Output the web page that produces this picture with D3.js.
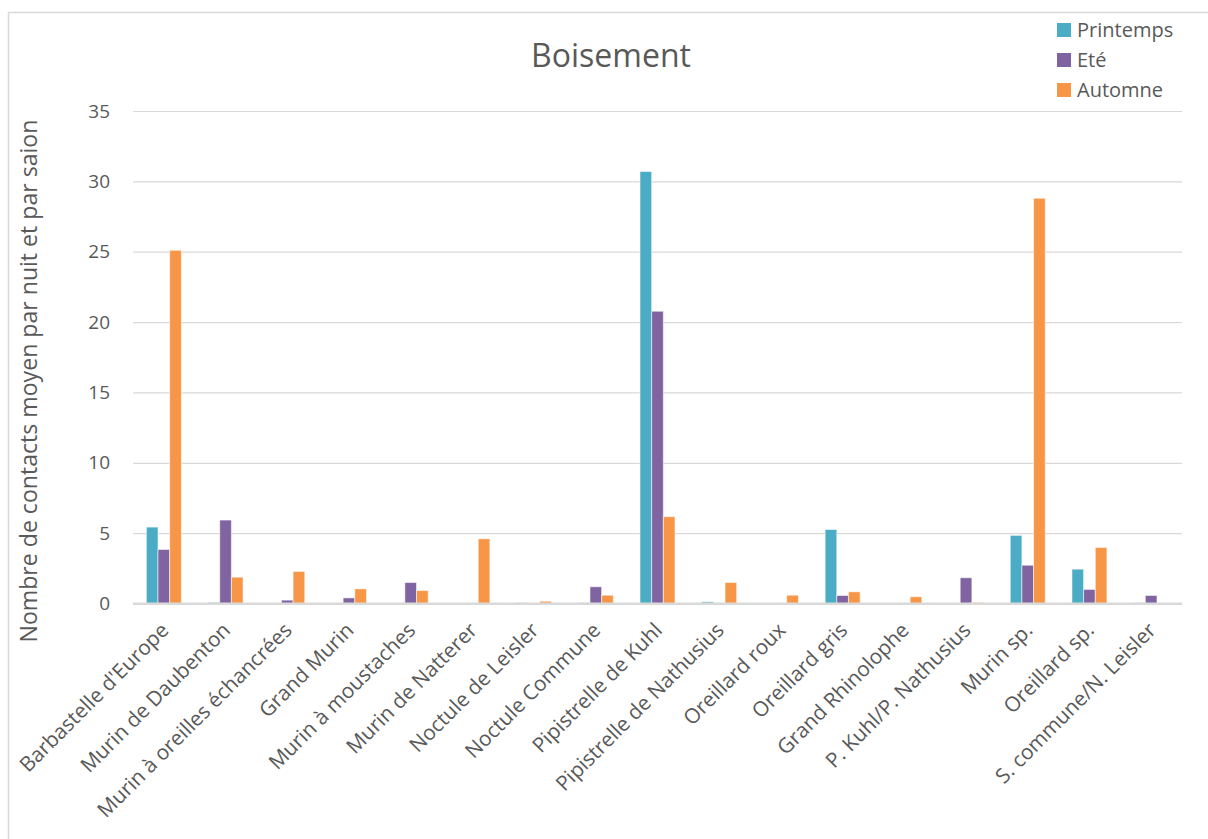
<!DOCTYPE html>
<html>
<head>
<meta charset="utf-8">
<script src="https://cdn.jsdelivr.net/npm/d3@7"></script>
<style>
  html, body { margin: 0; padding: 0; background: #fff; }
  svg { display: block; }
  svg text { font-family: "Open Sans", "Noto Sans", sans-serif; }
</style>
</head>
<body>
<svg id="chart" width="1208" height="839"></svg>
<script>
// Espèces recensées en boisement
const categories = [
  "Barbastelle d'Europe", "Murin de Daubenton", "Murin à oreilles échancrées",
  "Grand Murin", "Murin à moustaches", "Murin de Natterer", "Noctule de Leisler",
  "Noctule Commune", "Pipistrelle de Kuhl", "Pipistrelle de Nathusius",
  "Oreillard roux", "Oreillard gris", "Grand Rhinolophe", "P. Kuhl/P. Nathusius",
  "Murin sp.", "Oreillard sp.", "S. commune/N. Leisler"
];
const seriesNames = ["Printemps", "Eté", "Automne"];
const printemps = [5.43, 0.08, 0, 0, 0, 0, 0.05, 0.05, 30.7, 0.12, 0, 5.26, 0, 0, 4.84, 2.44, 0.05];
const ete       = [3.84, 5.93, 0.24, 0.4, 1.49, 0, 0, 1.19, 20.77, 0, 0, 0.57, 0, 1.83, 2.72, 1.0, 0.57];
const automne   = [25.1, 1.87, 2.28, 1.04, 0.92, 4.6, 0.16, 0.59, 6.17, 1.49, 0.59, 0.83, 0.48, 0.08, 28.8, 3.98, 0];
const yTicks = [0, 5, 10, 15, 20, 25, 30, 35];
const colors = ["#4BACC6", "#8064A2", "#F79646"];

const seriesValues = [printemps, ete, automne];
const textColor = "#595959";
const gridColor = "#D9D9D9";
const fontStack = '"Open Sans", "Noto Sans", sans-serif';

const svg = d3.select("#chart");

// Chart frame
svg.append("rect")
  .attr("x", 8.5).attr("y", 12.5)
  .attr("width", 1210).attr("height", 840)
  .attr("fill", "#fff")
  .attr("stroke", gridColor).attr("stroke-width", 1.5);

const plot = { left: 133, right: 1182, top: 111, bottom: 603.5 };

const x0 = d3.scaleBand()
  .domain(categories)
  .range([plot.left, plot.right])
  .paddingInner(0.433)
  .paddingOuter(0.2165);

const x1 = d3.scaleBand()
  .domain(seriesNames)
  .range([0, x0.bandwidth()]);

const y = d3.scaleLinear()
  .domain([0, 35])
  .range([plot.bottom, plot.top]);

// Horizontal gridlines and value labels
const yAxis = d3.axisLeft(y)
  .tickValues(yTicks)
  .tickSize(-(plot.right - plot.left))
  .tickPadding(23)
  .tickFormat(d3.format("d"));

const gy = svg.append("g")
  .attr("transform", `translate(${plot.left},0)`)
  .call(yAxis)
  .attr("font-family", fontStack);
gy.select(".domain").remove();
gy.selectAll(".tick line")
  .attr("stroke", gridColor)
  .attr("stroke-width", d => d === 0 ? 1.8 : 1.2);
gy.selectAll(".tick text")
  .attr("fill", textColor)
  .attr("font-size", 19);

// Bars
const groups = svg.append("g")
  .selectAll("g")
  .data(categories)
  .join("g")
  .attr("transform", d => `translate(${x0(d)},0)`);

groups.selectAll("rect")
  .data((d, i) => seriesNames.map((s, k) => ({ series: s, k, value: seriesValues[k][i] })))
  .join("rect")
  .filter(d => d.value > 0)
  .attr("x", d => x1(d.series))
  .attr("y", d => y(d.value))
  .attr("width", x1.bandwidth())
  .attr("height", d => y(0) - y(d.value))
  .attr("fill", d => colors[d.k])
  .attr("stroke", "#ffffff")
  .attr("stroke-opacity", 0.55)
  .attr("stroke-width", 1);

// Redraw the baseline over the bars
svg.append("line")
  .attr("x1", plot.left).attr("x2", plot.right)
  .attr("y1", y(0)).attr("y2", y(0))
  .attr("stroke", gridColor).attr("stroke-width", 1.8);

// Category labels, slanted
const xAxis = d3.axisBottom(x0).tickSize(0).tickPadding(0);
const gx = svg.append("g")
  .attr("transform", `translate(0,${plot.bottom})`)
  .call(xAxis)
  .attr("font-family", fontStack);
gx.select(".domain").remove();
gx.selectAll(".tick text")
  .attr("fill", textColor)
  .attr("font-size", 20.7)
  .attr("text-anchor", "end")
  .attr("dy", 0)
  .attr("transform", "translate(6,28) rotate(-45)");

// Title
svg.append("text")
  .attr("x", 611).attr("y", 67)
  .attr("text-anchor", "middle")
  .attr("fill", textColor)
  .attr("font-size", 32)
  .text("Boisement");

// Axis title
svg.append("text")
  .attr("transform", "translate(37,381) rotate(-90)")
  .attr("text-anchor", "middle")
  .attr("fill", textColor)
  .attr("font-size", 23.1)
  .text("Nombre de contacts moyen par nuit et par saion");

// Legend
const legend = svg.append("g")
  .selectAll("g")
  .data(seriesNames)
  .join("g")
  .attr("transform", (d, i) => `translate(1057,${30 + i * 30})`);
legend.append("rect")
  .attr("x", 0).attr("y", -7)
  .attr("width", 14).attr("height", 14)
  .attr("fill", (d, i) => colors[i]);
legend.append("text")
  .attr("x", 20).attr("y", 0)
  .attr("dy", "0.35em")
  .attr("fill", textColor)
  .attr("font-size", 20)
  .text(d => d);
</script>
</body>
</html>
